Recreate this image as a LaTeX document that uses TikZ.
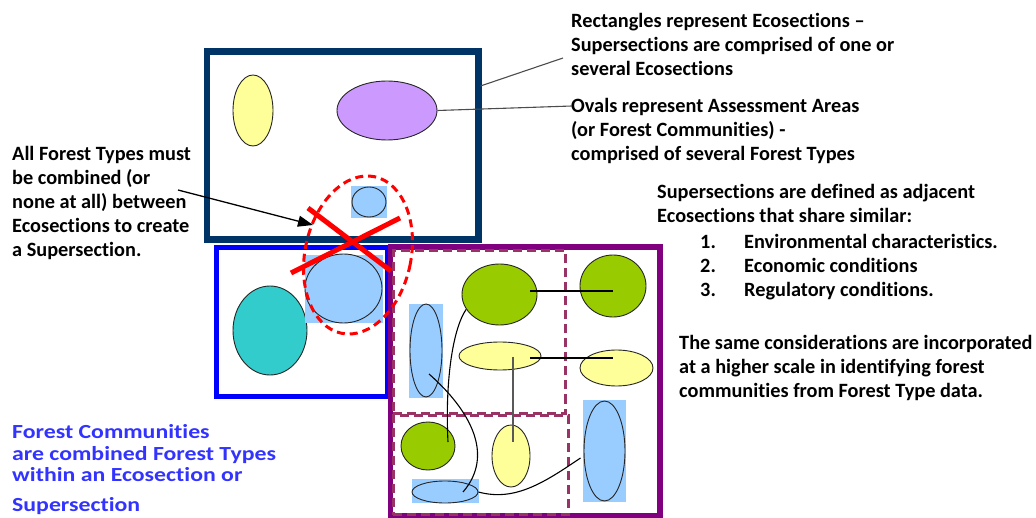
\documentclass[tikz,border=0pt]{standalone}
\usepackage{fontspec}
\setmainfont[Ligatures=NoCommon]{Carlito}
\newfontfamily\bluefont[FakeStretch=1.19,Ligatures=NoCommon]{Carlito}
\usetikzlibrary{shapes.geometric,arrows.meta}
\definecolor{navy}{HTML}{003366}
\definecolor{ecoblue}{HTML}{0000FF}
\definecolor{ecopurple}{HTML}{800080}
\definecolor{dashmaroon}{HTML}{993366}
\definecolor{yel}{HTML}{FFFF99}
\definecolor{lav}{HTML}{CC99FF}
\definecolor{lblue}{HTML}{99CCFF}
\definecolor{teal2}{HTML}{33CCCC}
\definecolor{grn}{HTML}{99CC00}
\definecolor{bluetext}{HTML}{3333FF}
\begin{document}
\begin{tikzpicture}[x=1pt,y=-1pt,
  ecobox/.style={draw, inner sep=0pt, outer sep=0pt},
  subbox/.style={draw=dashmaroon, line width=3pt, dash pattern=on 9pt off 5pt, inner sep=0pt},
  ov/.style={ellipse, draw=black!85, line width=0.9pt, inner sep=0pt},
  bg/.style={rectangle, fill=lblue, inner sep=0pt},
  link/.style={draw=black, line width=1.1pt},
  glink/.style={draw=black!65, line width=1.4pt},
  callout/.style={draw=black!70, line width=1.1pt},
  txt/.style={inner sep=0pt, anchor=base west, font=\bfseries\fontsize{20.3}{24}\selectfont},
  btxt/.style={inner sep=0pt, anchor=base west, text=bluetext, font=\bluefont\bfseries\fontsize{20}{21.5}\selectfont},
  cross/.style={draw=red, line width=5pt},
]
\useasboundingbox (0,0) rectangle (1036,518);

% Ecosection boxes
\node[ecobox, draw=navy, line width=6.5pt, minimum width=271.5pt, minimum height=188pt] (eco1) at (342.75,145.5) {};
\node[ecobox, draw=ecoblue, line width=5.5pt, minimum width=171pt, minimum height=149pt] (eco2) at (302,322) {};
\node[ecobox, draw=ecopurple, line width=5.5pt, minimum width=269.5pt, minimum height=269pt] (eco3) at (525.25,381.5) {};
\node[subbox, minimum width=172pt, minimum height=162.5pt] (sub1) at (479,332.25) {};
\node[subbox, minimum width=175pt, minimum height=99.5pt] (sub2) at (480.5,464.75) {};

% Ovals in Ecosection 1
\node[ov, fill=yel, minimum width=40pt, minimum height=71pt] (y1) at (253,110.5) {};
\node[ov, fill=lav, minimum width=100pt, minimum height=59pt] (p1) at (387,110.5) {};
\node[bg, minimum width=36pt, minimum height=32pt] (b1bg) at (369,202) {};
\node[ov, fill=lblue, minimum width=34pt, minimum height=30pt] (b1) at (369,202) {};

% Ovals in Ecosection 2
\node[ov, fill=teal2, minimum width=74pt, minimum height=89pt] (t1) at (270,330.5) {};
\node[bg, minimum width=78pt, minimum height=68pt] (b2bg) at (344,289) {};
\node[ov, fill=lblue, minimum width=77pt, minimum height=69pt] (b2) at (343.5,288.5) {};

% Ovals in Ecosection 3
\node[ov, fill=grn, minimum width=75pt, minimum height=61pt] (g1) at (499.5,294.5) {};
\node[ov, fill=grn, minimum width=66pt, minimum height=62pt] (g2) at (613,286) {};
\node[ov, fill=yel, minimum width=82pt, minimum height=28pt] (ym) at (500,356) {};
\node[ov, fill=yel, minimum width=73pt, minimum height=36pt] (yr) at (616.5,368) {};
\node[bg, minimum width=34pt, minimum height=94pt] (blbg) at (426,351) {};
\node[ov, fill=lblue, minimum width=32pt, minimum height=93pt] (bl) at (426,350.5) {};
\node[ov, fill=grn, minimum width=54pt, minimum height=48pt] (g3) at (428,446) {};
\node[ov, fill=yel, minimum width=38pt, minimum height=62pt] (yb) at (511,456) {};
\node[bg, minimum width=67pt, minimum height=24pt] (bfbg) at (445.5,491) {};
\node[ov, fill=lblue, minimum width=66pt, minimum height=22pt] (bf) at (445,492) {};
\node[bg, minimum width=43pt, minimum height=102pt] (brbg) at (604.5,451) {};
\node[ov, fill=lblue, minimum width=41pt, minimum height=100pt] (br) at (604.5,451) {};

% Links between forest types
\draw[link] ([shift={(30.5,-3.5)}]g1.center) -- ([shift={(0,5)}]g2.center);
\draw[link] ([shift={(30,2)}]ym.center) -- ([shift={(-3.5,-10)}]yr.center);
\draw[glink] ([shift={(13,1)}]ym.center) -- ([shift={(2,-14)}]yb.center);
\draw[link] (g1.204) .. controls (452,330) and (445,385) .. ([shift={(20,-4)}]g3.center);
\draw[link] ([shift={(3,23.5)}]bl.center) .. controls (470,410) and (495,455) .. ([shift={(18,0)}]bf.center);
\draw[link] (bf.east) .. controls (515,502) and (545,482) .. ([shift={(-24,7)}]br.center);

% Red dashed oval and cross
\node[ellipse, draw=red, line width=3pt, dash pattern=on 8pt off 5pt, minimum width=106pt, minimum height=160pt, rotate=-12, inner sep=0pt] (redov) at (358,255) {};
\coordinate (xa1) at (308,208);
\coordinate (xa2) at (391,271);
\coordinate (xb1) at (400,218);
\coordinate (xb2) at (291,273);
\draw[cross] (xa1) -- (xa2);
\draw[cross] (xb1) -- (xb2);

% Texts
\node[txt] (tr1) at (571,27.5) {\begin{tabular}[t]{@{}l@{}}Rectangles represent Ecosections –\\Supersections are comprised of one or\\several Ecosections\end{tabular}};
\node[txt] (tr2) at (571,113) {\begin{tabular}[t]{@{}l@{}}Ovals represent Assessment Areas\\(or Forest Communities) -\\comprised of several Forest Types\end{tabular}};
\node[txt] (rm1) at (657,199) {\begin{tabular}[t]{@{}l@{}}Supersections are defined as adjacent\\Ecosections that share similar:\end{tabular}};
\node[txt] (rm2) at (700,249) {\begin{tabular}[t]{@{}l@{\hspace{0pt}}l@{}}\makebox[44pt][l]{1.}&Environmental characteristics.\\\makebox[44pt][l]{2.}&Economic conditions\\\makebox[44pt][l]{3.}&Regulatory conditions.\end{tabular}};
\node[txt] (rm3) at (679,350) {\begin{tabular}[t]{@{}l@{}}The same considerations are incorporated\\at a higher scale in identifying forest\\communities from Forest Type data.\end{tabular}};
\node[txt] (lt) at (12,161) {\begin{tabular}[t]{@{}l@{}}All Forest Types must\\be combined (or\\none at all) between\\Ecosections to create\\a Supersection.\end{tabular}};
\node[btxt] (bt1) at (12,438.5) {\begin{tabular}[t]{@{}l@{}}Forest Communities\\are combined Forest Types\\within an Ecosection or\end{tabular}};
\node[btxt] (bt2) at (12,511.5) {Supersection};

% Callout lines
\coordinate (c1) at (563,58);
\coordinate (c2) at (572,106);
\draw[callout] ([shift={(2,-59.5)}]eco1.east) -- (c1);
\draw[callout] (p1.east) -- (c2);
\coordinate (a0) at (178,190);
\draw[black, line width=1.3pt, -{Triangle[length=15pt,width=11pt]}] (a0) -- (313,225);
\end{tikzpicture}
\end{document}
